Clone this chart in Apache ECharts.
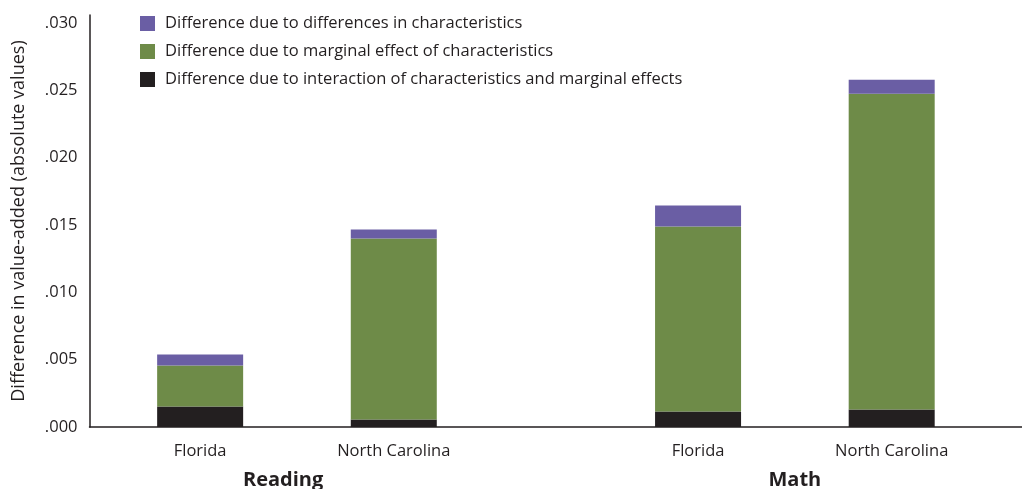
<!DOCTYPE html>
<html>
<head>
<meta charset="utf-8">
<script src="https://cdn.jsdelivr.net/npm/echarts@6/dist/echarts.min.js"></script>
<style>
    html, body { margin: 0; padding: 0; background: #fff; }
    #chart { width: 1022px; height: 489px; }
</style>
</head>
<body>
<div id="chart"></div>
<script>
// data
const states = ['Florida', 'North Carolina', 'Florida', 'North Carolina'];
const subjects = ['Reading', 'Math'];
const interaction = [0.00152, 0.00056, 0.00115, 0.00130];
const marginal = [0.00305, 0.01344, 0.01374, 0.02346];
const characteristics = [0.00081, 0.00067, 0.00156, 0.00104];
const yTicks = ['.000', '.005', '.010', '.015', '.020', '.025', '.030'];

// layout: bars sit on a fine slot grid so the two groups get a wider gap
const slotCount = 35;
const stateSlots = [4, 11, 22, 29];
const subjectSlots = [14, 51]; // on the half-step axis (69 slots)

const FONT = 'Open Sans';
const TEXT = '#231f20';

function spread(values) {
    const out = new Array(slotCount).fill(null);
    stateSlots.forEach((s, i) => { out[s] = values[i]; });
    return out;
}

const stateCats = Array.from({ length: slotCount }, (_, i) => {
    const j = stateSlots.indexOf(i);
    return j >= 0 ? states[j] : '';
});
const subjectCats = Array.from({ length: slotCount * 2 - 1 }, (_, i) => {
    const j = subjectSlots.indexOf(i);
    return j >= 0 ? subjects[j] : '';
});

var myChart = echarts.init(document.getElementById('chart'));

const names = [
    'Difference due to differences in characteristics',
    'Difference due to marginal effect of characteristics',
    'Difference due to interaction of characteristics and marginal effects'
];

const option = {
    animation: false,
    grid: { left: 89.5, right: -8, top: 15, bottom: 62, outerBoundsMode: 'none' },
    legend: {
        data: names,
        orient: 'vertical',
        left: 135,
        top: 10,
        itemWidth: 15,
        itemHeight: 15,
        itemGap: 11,
        icon: 'rect',
        textStyle: { fontFamily: FONT, fontSize: 16.5, color: TEXT, padding: [0, 0, 0, 5] }
    },
    xAxis: [
        {
            type: 'category',
            data: stateCats,
            boundaryGap: false,
            axisLine: { lineStyle: { color: TEXT, width: 1.5 } },
            axisTick: { show: false },
            axisLabel: { interval: 0, margin: 16, fontFamily: FONT, fontSize: 16.5, color: TEXT }
        },
        {
            type: 'category',
            data: subjectCats,
            boundaryGap: false,
            position: 'bottom',
            axisLine: { show: false },
            axisTick: { show: false },
            axisLabel: { interval: 0, margin: 43, fontFamily: FONT, fontSize: 20, fontWeight: 'bold', color: TEXT }
        }
    ],
    yAxis: {
        type: 'value',
        min: 0,
        max: 0.0306,
        interval: 0.005,
        name: 'Difference in value-added (absolute values)',
        nameLocation: 'middle',
        nameRotate: 90,
        nameGap: 62,
        nameTextStyle: { fontFamily: FONT, fontSize: 18, color: TEXT },
        splitLine: { show: false },
        axisTick: { show: false },
        axisLine: { show: true, lineStyle: { color: TEXT, width: 1.5 } },
        axisLabel: {
            showMaxLabel: false,
            margin: 12,
            fontFamily: FONT,
            fontSize: 16.5,
            color: TEXT,
            formatter: (v) => yTicks[Math.round(v / 0.005)] || ''
        }
    },
    series: [
        {
            name: names[2], type: 'bar', stack: 'd', barWidth: 86,
            itemStyle: { color: '#231f20' }, data: spread(interaction)
        },
        {
            name: names[1], type: 'bar', stack: 'd', barWidth: 86,
            itemStyle: { color: '#6e8b48' }, data: spread(marginal)
        },
        {
            name: names[0], type: 'bar', stack: 'd', barWidth: 86,
            itemStyle: { color: '#6a5ea4' }, data: spread(characteristics)
        }
    ]
};

myChart.setOption(option);
</script>
</body>
</html>
